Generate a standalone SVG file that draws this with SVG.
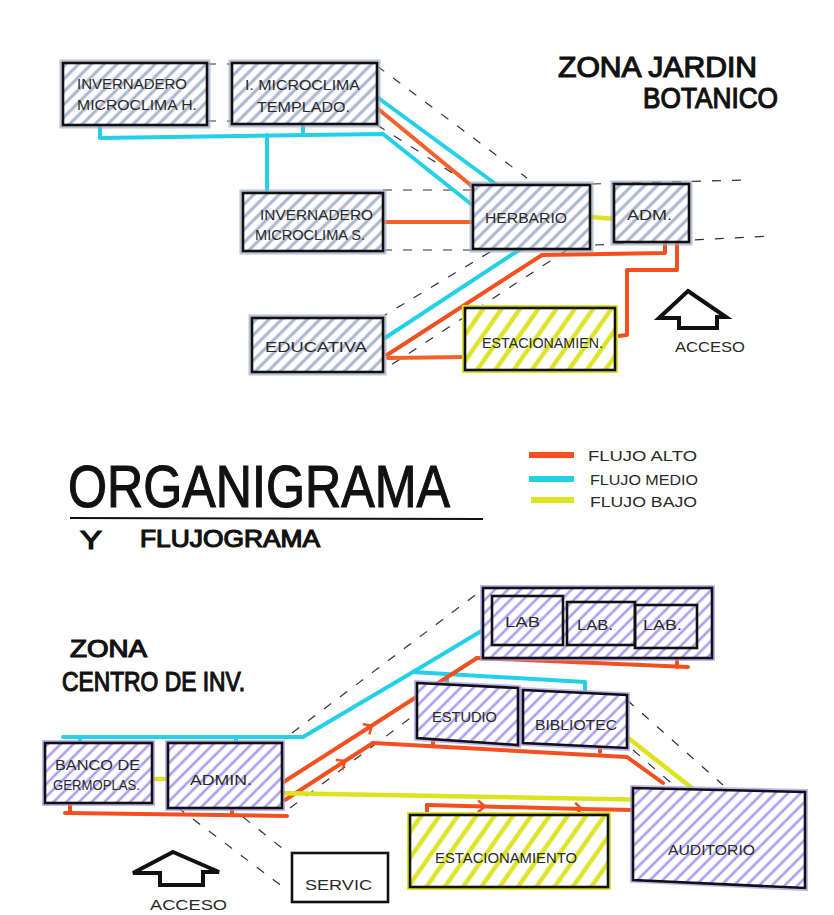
<svg xmlns="http://www.w3.org/2000/svg" width="834" height="915" viewBox="0 0 834 915">
<style>
.bg{fill:#ffffff}
.box{stroke:#111;stroke-width:2.6;stroke-linejoin:miter}
.glowB{fill:none;stroke:#9ea9c2;stroke-width:7;opacity:0.7}
.glowP{fill:none;stroke:#a898f0;stroke-width:6;opacity:0.7}
.glowY{fill:none;stroke:#dfe525;stroke-width:6}
.lbl{font-family:"Liberation Sans","DejaVu Sans",sans-serif;fill:#2a2a2a;font-size:14px}
.hd{font-family:"Liberation Sans","DejaVu Sans",sans-serif;fill:#111;stroke:#111;stroke-width:1.2}
.cy{fill:none;stroke:#22d0e8;stroke-width:4;stroke-linecap:round;stroke-linejoin:round}
.or{fill:none;stroke:#f2622a;stroke-width:4;stroke-linecap:round;stroke-linejoin:round}
.rd{fill:none;stroke:#f4501f;stroke-width:4;stroke-linecap:round;stroke-linejoin:round}
.ye{fill:none;stroke:#dde41f;stroke-width:4.5;stroke-linecap:round}
.da{fill:none;stroke:#333;stroke-width:1.2;stroke-dasharray:9 11}
.arw{fill:#fff;stroke:#111;stroke-width:4;stroke-linejoin:miter}
.arrowed{marker-mid:url(#chev)}
</style>
<defs>
<pattern id="hB" patternUnits="userSpaceOnUse" width="9" height="9" patternTransform="rotate(45)">
<rect width="9" height="9" fill="#fff"/><line x1="2" y1="0" x2="2" y2="9" stroke="#aab4cf" stroke-width="3"/>
</pattern>
<pattern id="hP" patternUnits="userSpaceOnUse" width="9" height="9" patternTransform="rotate(45)">
<rect width="9" height="9" fill="#fff"/><line x1="2" y1="0" x2="2" y2="9" stroke="#ab9ef2" stroke-width="2.6"/>
</pattern>
<pattern id="hY" patternUnits="userSpaceOnUse" width="15" height="15" patternTransform="rotate(35)">
<rect width="15" height="15" fill="#fff"/><line x1="3" y1="0" x2="3" y2="15" stroke="#dde52a" stroke-width="4.5"/>
</pattern>
<marker id="chev" markerWidth="14" markerHeight="14" refX="8" refY="7" orient="auto" markerUnits="userSpaceOnUse">
<path d="M1,1 L8,7 L1,13" fill="none" stroke="#f4501f" stroke-width="2.5"/>
</marker>
</defs>
<rect class="bg" x="0" y="0" width="834" height="915"/>

<g id="titles">
<text class="hd" x="558" y="77" font-size="29" textLength="199" lengthAdjust="spacingAndGlyphs">ZONA  JARDIN</text>
<text class="hd" x="643" y="108" font-size="29" textLength="135" lengthAdjust="spacingAndGlyphs">BOTANICO</text>
<text class="hd" x="68" y="507" font-size="60" textLength="382" lengthAdjust="spacingAndGlyphs" stroke-width="1.6">ORGANIGRAMA</text>
<line x1="70" y1="518" x2="483" y2="519" stroke="#111" stroke-width="2"/>
<text class="hd" x="80" y="549" font-size="26" textLength="22" lengthAdjust="spacingAndGlyphs">Y</text>
<text class="hd" x="140" y="547" font-size="24" textLength="180" lengthAdjust="spacingAndGlyphs">FLUJOGRAMA</text>
<text class="hd" x="70" y="657" font-size="24" textLength="77" lengthAdjust="spacingAndGlyphs">ZONA</text>
<text class="hd" x="62" y="691" font-size="27" textLength="183" lengthAdjust="spacingAndGlyphs">CENTRO DE INV.</text>
</g>

<g id="legend">
<line x1="529" y1="455" x2="574" y2="455" stroke="#f4501f" stroke-width="6"/>
<line x1="529" y1="479" x2="574" y2="479" stroke="#22d0e8" stroke-width="6"/>
<line x1="531" y1="500" x2="574" y2="500" stroke="#dde41f" stroke-width="6"/>
<text class="lbl" x="588" y="461" font-size="15" textLength="109" lengthAdjust="spacingAndGlyphs">FLUJO  ALTO</text>
<text class="lbl" x="590" y="485" font-size="15" textLength="108" lengthAdjust="spacingAndGlyphs">FLUJO MEDIO</text>
<text class="lbl" x="590" y="507" font-size="15" textLength="107" lengthAdjust="spacingAndGlyphs">FLUJO  BAJO</text>
</g>

<g id="connectors">
<path class="da" d="M207,64 L232,64 M207,121 L232,121"/>
<path class="da" d="M377,66 L527,178"/>
<path class="da" d="M377,125 L473,186"/>
<path class="da" d="M383,190 L472,190"/>
<path class="da" d="M383,250 L472,250"/>
<path class="da" d="M592,184 L745,180"/>
<path class="da" d="M595,245 L770,236"/>
<path class="da" d="M490,252 L385,315"/>
<path class="da" d="M567,250 L388,367"/>
<path class="cy" d="M100,127 L100,138 L383,134 L471,204"/>
<path class="cy" d="M267,135 L267,193"/>
<path class="cy" d="M303,125 L303,134"/>
<path class="cy" d="M377,97 L497,185"/>
<path class="cy" d="M522,248 L385,338"/>
<path class="or" d="M377,108 L473,187"/>
<path class="or" d="M383,222 L480,222"/>
<path class="rd" d="M665,240 L665,253 L542,255 L387,355"/>
<path class="or" d="M388,358 L467,357"/>
<path class="rd" d="M677,240 L677,270 L627,270 L627,335 L610,337"/>
<path class="ye" d="M592,217 L615,219"/>

<path class="da" d="M292,733 L482,590"/>
<path class="da" d="M290,808 L417,713"/>
<path class="da" d="M627,700 L723,785"/>
<path class="da" d="M633,750 L670,782"/>
<path class="da" d="M177,807 L287,890"/>
<path class="da" d="M243,817 L287,852"/>
<path class="cy" d="M63,737 L303,737 L413,672 L483,630"/>
<path class="cy" d="M413,672 L585,682 L585,690"/>
<path class="cy" d="M80,737 L80,745 M236,737 L236,745 M447,675 L447,684"/>
<path class="rd" d="M65,813 L287,816"/>
<path class="rd" d="M70,803 L70,813 M232,807 L232,815"/>
<path class="rd arrowed" d="M282,783 L372,725.5 L477,658"/>
<path class="rd" d="M477,658 L688,667"/>
<path class="rd" d="M530,650 L530,659 M677,652 L677,667"/>
<path class="rd arrowed" d="M285,800 L345,761 L373,743"/>
<path class="rd" d="M373,743 L627,757 L663,783"/>
<path class="rd" d="M433,737 L433,744 M600,744 L600,752"/>
<path class="rd" d="M427,815 L427,805"/>
<path class="rd arrowed" d="M427,805 L485,806.5 L582,809 L633,810"/>
<path class="ye" d="M150,779 L177,779"/>
<path class="ye" d="M272,793 L657,800"/>
<path class="ye" d="M627,737 L697,792"/>
<path class="ye" d="M517,723 L532,727"/>
</g>

<g id="invernadero-h">
<rect class="glowB" x="63" y="63" width="144" height="62"/>
<rect class="box" x="63" y="63" width="144" height="62" fill="url(#hB)"/>
<text class="lbl" x="77" y="89" textLength="110" lengthAdjust="spacingAndGlyphs">INVERNADERO</text>
<text class="lbl" x="77" y="110" textLength="120" lengthAdjust="spacingAndGlyphs">MICROCLIMA H.</text>
</g>
<g id="microclima-templado">
<rect class="glowB" x="232" y="63" width="145" height="61"/>
<rect class="box" x="232" y="63" width="145" height="61" fill="url(#hB)"/>
<text class="lbl" x="245" y="90" textLength="115" lengthAdjust="spacingAndGlyphs">I. MICROCLIMA</text>
<text class="lbl" x="257" y="112" textLength="93" lengthAdjust="spacingAndGlyphs">TEMPLADO.</text>
</g>
<g id="invernadero-s">
<rect class="glowB" x="243" y="193" width="140" height="58"/>
<rect class="box" x="243" y="193" width="140" height="58" fill="url(#hB)"/>
<text class="lbl" x="260" y="220" textLength="113" lengthAdjust="spacingAndGlyphs">INVERNADERO</text>
<text class="lbl" x="255" y="240" textLength="110" lengthAdjust="spacingAndGlyphs">MICROCLIMA S.</text>
</g>
<g id="herbario">
<rect class="glowB" x="473" y="185" width="117" height="64"/>
<rect class="box" x="473" y="185" width="117" height="64" fill="url(#hB)" stroke-width="3.2"/>
<text class="lbl" x="485" y="223" textLength="82" lengthAdjust="spacingAndGlyphs">HERBARIO</text>
</g>
<g id="adm">
<rect class="glowB" x="614" y="184" width="75" height="58"/>
<rect class="box" x="614" y="184" width="75" height="58" fill="url(#hB)" stroke-width="3.2"/>
<text class="lbl" x="627" y="220" textLength="45" lengthAdjust="spacingAndGlyphs">ADM.</text>
</g>
<g id="educativa">
<rect class="glowB" x="252" y="318" width="131" height="54"/>
<rect class="box" x="252" y="318" width="131" height="54" fill="url(#hB)" stroke-width="3.2"/>
<text class="lbl" x="265" y="352" textLength="102" lengthAdjust="spacingAndGlyphs">EDUCATIVA</text>
</g>
<g id="estacionamien">
<rect class="glowY" x="465" y="308" width="150" height="62"/>
<rect class="box" x="465" y="308" width="150" height="62" fill="url(#hY)"/>
<text class="lbl" x="482" y="348" textLength="121" lengthAdjust="spacingAndGlyphs">ESTACIONAMIEN.</text>
</g>
<g id="acceso-top">
<polygon class="arw" points="688,291 726,317 717,317 717,328 679,328 679,318 659,318"/>
<text class="lbl" x="675" y="352" font-size="16" textLength="70" lengthAdjust="spacingAndGlyphs">ACCESO</text>
</g>

<g id="banco">
<rect class="glowP" x="45" y="743" width="107" height="60"/>
<rect class="box" x="45" y="743" width="107" height="60" fill="url(#hP)"/>
<text class="lbl" x="55" y="770" font-size="13" textLength="85" lengthAdjust="spacingAndGlyphs">BANCO DE</text>
<text class="lbl" x="53" y="790" font-size="13" textLength="87" lengthAdjust="spacingAndGlyphs">GERMOPLAS.</text>
</g>
<g id="admin">
<rect class="glowP" x="168" y="743" width="114" height="65"/>
<rect class="box" x="168" y="743" width="114" height="65" fill="url(#hP)"/>
<text class="lbl" x="190" y="785" font-size="15" textLength="62" lengthAdjust="spacingAndGlyphs">ADMIN.</text>
</g>
<g id="servic">
<rect class="box" x="292" y="853" width="96" height="49" fill="#fff"/>
<text class="lbl" x="305" y="890" textLength="67" lengthAdjust="spacingAndGlyphs">SERVIC</text>
</g>
<g id="acceso-bottom">
<polygon class="arw" points="173,852 219,872 203,872 203,885 160,885 160,873 133,873"/>
<text class="lbl" x="150" y="910" font-size="16" textLength="77" lengthAdjust="spacingAndGlyphs">ACCESO</text>
</g>
<g id="labs">
<rect class="glowP" x="483" y="588" width="229" height="70"/>
<rect class="box" x="483" y="588" width="229" height="70" fill="url(#hP)"/>
<rect class="box" x="492" y="596" width="71" height="49" fill="none" stroke-width="2"/>
<rect class="box" x="567" y="602" width="68" height="43" fill="none" stroke-width="2"/>
<rect class="box" x="635" y="605" width="62" height="43" fill="none" stroke-width="2"/>
<text class="lbl" x="505" y="627" textLength="35" lengthAdjust="spacingAndGlyphs">LAB</text>
<text class="lbl" x="577" y="630" textLength="36" lengthAdjust="spacingAndGlyphs">LAB.</text>
<text class="lbl" x="643" y="630" textLength="39" lengthAdjust="spacingAndGlyphs">LAB.</text>
</g>
<g id="estudio">
<polygon class="glowP" points="417,683 518,688 518,745 417,738"/>
<polygon class="box" points="417,683 518,688 518,745 417,738" fill="url(#hP)"/>
<text class="lbl" x="432" y="722" textLength="65" lengthAdjust="spacingAndGlyphs">ESTUDIO</text>
</g>
<g id="biblioteca">
<polygon class="glowP" points="523,690 627,695 627,748 523,743"/>
<polygon class="box" points="523,690 627,695 627,748 523,743" fill="url(#hP)"/>
<text class="lbl" x="535" y="730" textLength="82" lengthAdjust="spacingAndGlyphs">BIBLIOTEC</text>
</g>
<g id="auditorio">
<polygon class="glowP" points="633,788 805,792 805,888 633,880"/>
<polygon class="box" points="633,788 805,792 805,888 633,880" fill="url(#hP)"/>
<text class="lbl" x="668" y="855" font-size="15" textLength="87" lengthAdjust="spacingAndGlyphs">AUDITORIO</text>
</g>
<g id="estacionamiento">
<rect class="glowY" x="410" y="815" width="198" height="72"/>
<rect class="box" x="410" y="815" width="198" height="72" fill="url(#hY)"/>
<text class="lbl" x="435" y="863" textLength="142" lengthAdjust="spacingAndGlyphs">ESTACIONAMIENTO</text>
</g>
</svg>
